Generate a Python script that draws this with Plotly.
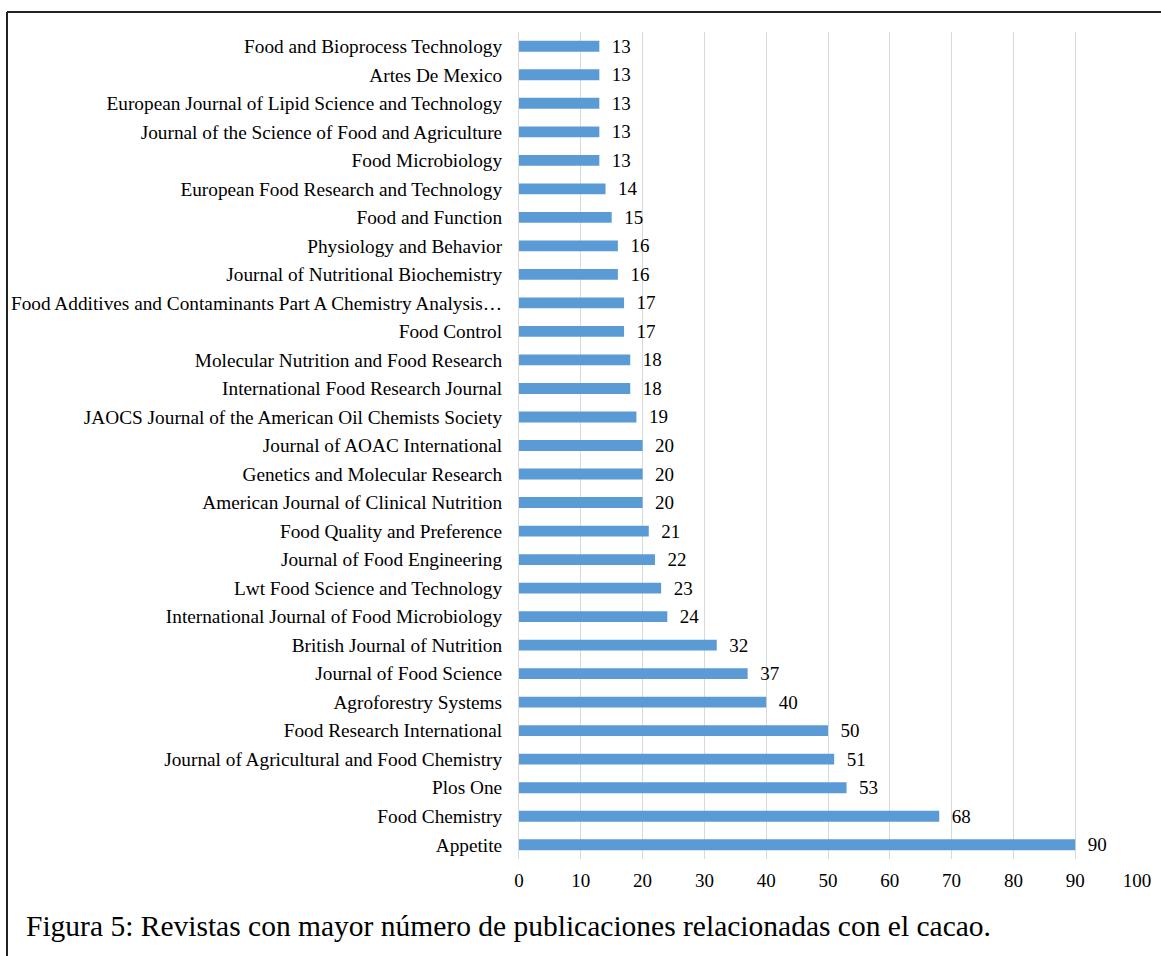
import plotly.graph_objects as go

journals = [
    "Appetite",
    "Food Chemistry",
    "Plos One",
    "Journal of Agricultural and Food Chemistry",
    "Food Research International",
    "Agroforestry Systems",
    "Journal of Food Science",
    "British Journal of Nutrition",
    "International Journal of Food Microbiology",
    "Lwt Food Science and Technology",
    "Journal of Food Engineering",
    "Food Quality and Preference",
    "American Journal of Clinical Nutrition",
    "Genetics and Molecular Research",
    "Journal of AOAC International",
    "JAOCS Journal of the American Oil Chemists Society",
    "International Food Research Journal",
    "Molecular Nutrition and Food Research",
    "Food Control",
    "Food Additives and Contaminants Part A Chemistry Analysis…",
    "Journal of Nutritional Biochemistry",
    "Physiology and Behavior",
    "Food and Function",
    "European Food Research and Technology",
    "Food Microbiology",
    "Journal of the Science of Food and Agriculture",
    "European Journal of Lipid Science and Technology",
    "Artes De Mexico",
    "Food and Bioprocess Technology",
]
publications = [90, 68, 53, 51, 50, 40, 37, 32, 24, 23, 22, 21, 20, 20, 20, 19,
                18, 18, 17, 17, 16, 16, 15, 14, 13, 13, 13, 13, 13]
x_ticks = [0, 10, 20, 30, 40, 50, 60, 70, 80, 90, 100]
caption = "Figura 5: Revistas con mayor número de publicaciones relacionadas con el cacao."

W, H = 1161, 956
L, R, T, B = 519, 24, 32, 97
pw, ph = W - L - R, H - T - B

def px(xp):
    return (xp - L) / pw

def py(yp):
    return (H - B - yp) / ph

FONT = "Liberation Serif, Times New Roman, serif"

fig = go.Figure(go.Bar(
    x=publications,
    y=journals,
    orientation="h",
    marker=dict(color="#5b9bd5", line=dict(width=0)),
    width=0.38,
    text=publications,
    texttemplate="\u00a0\u00a0%{x}",
    textposition="outside",
    constraintext="none",
    textfont=dict(family=FONT, size=19, color="#000000"),
    cliponaxis=False,
))

fig.update_layout(
    width=W, height=H,
    margin=dict(l=L, r=R, t=T, b=B, autoexpand=False),
    paper_bgcolor="white",
    plot_bgcolor="white",
    showlegend=False,
    font=dict(family=FONT, size=19, color="#000000"),
    xaxis=dict(
        range=[0, 100],
        tickvals=x_ticks,
        showgrid=True,
        gridcolor="#d9d9d9",
        gridwidth=1,
        zeroline=False,
        showline=False,
        ticks="",
        automargin=False,
        ticklabelstandoff=8,
        tickfont=dict(family=FONT, size=19, color="#000000"),
    ),
    yaxis=dict(
        categoryorder="array",
        categoryarray=journals,
        range=[-0.5, len(journals) - 0.5],
        showgrid=False,
        zeroline=False,
        showline=True,
        linecolor="#d9d9d9",
        linewidth=1,
        ticks="",
        automargin=False,
        ticklabelstandoff=12,
        tickfont=dict(family=FONT, size=19.3, color="#000000"),
    ),
    shapes=[
        dict(type="line", xref="paper", yref="paper",
             x0=px(7), x1=px(W + 5), y0=py(12), y1=py(12),
             line=dict(color="#222222", width=2)),
        dict(type="line", xref="paper", yref="paper",
             x0=px(7), x1=px(7), y0=py(12), y1=py(H + 5),
             line=dict(color="#222222", width=2)),
    ],
    annotations=[
        dict(text=caption, xref="paper", yref="paper",
             x=px(24), y=py(926), xanchor="left", yanchor="middle",
             showarrow=False,
             font=dict(family=FONT, size=29.5, color="#000000")),
    ],
)

fig.write_html(
    "out.html",
    config={"displayModeBar": False},
    post_script="document.body.style.margin='0';document.body.style.overflow='hidden';",
)
